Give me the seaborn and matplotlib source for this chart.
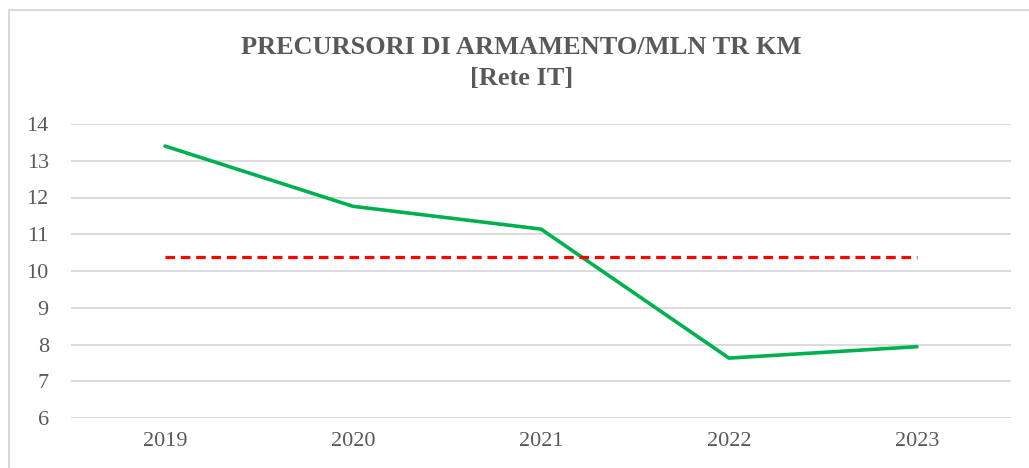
import pandas as pd
import seaborn as sns
import matplotlib.pyplot as plt
from matplotlib.patches import Rectangle

# Dati
anni = ['2019', '2020', '2021', '2022', '2023']
precursori = [13.40, 11.76, 11.14, 7.63, 7.94]
soglia = [10.38, 10.38, 10.38, 10.38, 10.38]

df = pd.DataFrame({'Anno': anni, 'Precursori': precursori, 'Soglia': soglia})

sns.set_style('white')
plt.rcParams['font.family'] = ['Liberation Serif', 'DejaVu Serif']

fig = plt.figure(figsize=(10.29, 4.68), dpi=100)
ax = fig.add_axes([71 / 1029, 1 - 418 / 468, 940 / 1029, 294 / 468])

sns.lineplot(data=df, x='Anno', y='Precursori', ax=ax, color='#00B050', linewidth=2.6,
             sort=False, solid_capstyle='round')
sns.lineplot(data=df, x='Anno', y='Soglia', ax=ax, color='#FF0000', linewidth=2.3,
             linestyle=(0, (3, 1.8)), sort=False)

ax.set_xlim(-0.5, 4.5)
ax.set_ylim(6, 14)
ax.set_yticks(range(6, 15))
ax.yaxis.grid(True, color='#D9D9D9', linewidth=1.3)
ax.set_axisbelow(True)
for s in ax.spines.values():
    s.set_visible(False)
ax.tick_params(axis='both', length=0, labelsize=16, colors='#595959')
ax.tick_params(axis='y', pad=16)
ax.tick_params(axis='x', pad=10)
ax.set_xlabel('')
ax.set_ylabel('')

fig.text(0.507, 1 - 63 / 468, 'PRECURSORI DI ARMAMENTO/MLN TR KM\n[Rete IT]',
         ha='center', va='center', fontsize=19, fontweight='bold', color='#595959',
         linespacing=1.4)

# cornice del grafico (visibili solo lato superiore e sinistro)
fig.patches.append(Rectangle((9 / 1029, -0.05), 1.1, 1.05 - 10 / 468,
                             transform=fig.transFigure, fill=False,
                             edgecolor='#D9D9D9', linewidth=1.5))

fig.savefig('out.png', dpi=100)
